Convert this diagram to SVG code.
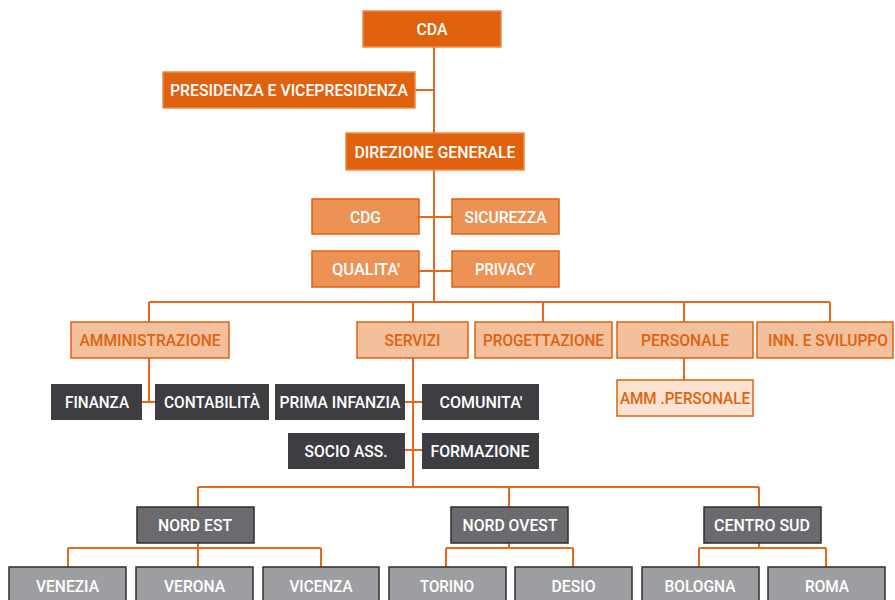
<svg xmlns="http://www.w3.org/2000/svg" width="895" height="600" viewBox="0 0 895 600">
<style>
text{font-family:Roboto,"Liberation Sans",Arial,sans-serif;font-weight:500;font-size:16.5px;text-anchor:middle;}
.l1 rect{fill:#e0620e;stroke:#f08a4a;stroke-width:1.5}
.l1 text{fill:#fff}
.l2 rect{fill:#ec9255;stroke:#e0620e;stroke-width:1.5}
.l2 text{fill:#fff}
.l3 rect{fill:#f2c09c;stroke:#e0620e;stroke-width:1.5}
.l3 text{fill:#e0620e}
.l4 rect{fill:#fbe2d3;stroke:#e0620e;stroke-width:1.5}
.l4 text{fill:#e0620e}
.dk rect{fill:#3e3d42}
.dk text{fill:#fff}
.rg rect{fill:#6b6a6f;stroke:#2e2e30;stroke-width:1.5}
.rg text{fill:#fff}
.ct rect{fill:#9d9ea2;stroke:#2e2e30;stroke-width:1.5}
.ct text{fill:#fff}
#connectors path{fill:none;stroke:#e8681a;stroke-width:2}
</style>
<g id="connectors">
<path d="M434 47V302M415 90H434M419 217H452M419 271H452"/>
<path d="M149 302H830M149 302V322M413 302V322M543 302V322M684 302V322M830 302V322"/>
<path d="M149 358V402M142 402H155"/>
<path d="M413 358V487M405 402H422M405 450H422"/>
<path d="M684 358V380"/>
<path d="M198 487H759M198 487V507M509 487V507M759 487V507"/>
<path d="M198 543V548M68 548H321M68 548V567M198 548V567M321 548V567"/>
<path d="M509 543V548M446 548H573M446 548V567M573 548V567"/>
<path d="M759 543V548M699 548H826M699 548V567M826 548V567"/>
</g>
<g id="cda" class="l1"><rect x="363" y="11" width="138" height="36"/><text x="432" y="35" textLength="31" lengthAdjust="spacingAndGlyphs">CDA</text></g>
<g id="presidenza" class="l1"><rect x="163" y="72" width="252" height="36"/><text x="289" y="96" textLength="238" lengthAdjust="spacingAndGlyphs">PRESIDENZA E VICEPRESIDENZA</text></g>
<g id="direzione" class="l1"><rect x="346" y="133" width="178" height="37"/><text x="435" y="158" textLength="161" lengthAdjust="spacingAndGlyphs">DIREZIONE GENERALE</text></g>
<g id="cdg" class="l2"><rect x="312" y="199" width="107" height="35"/><text x="365.5" y="223" textLength="31" lengthAdjust="spacingAndGlyphs">CDG</text></g>
<g id="sicurezza" class="l2"><rect x="452" y="199" width="107" height="35"/><text x="505.5" y="223" textLength="82" lengthAdjust="spacingAndGlyphs">SICUREZZA</text></g>
<g id="qualita" class="l2"><rect x="312" y="251" width="107" height="36"/><text x="366" y="275" textLength="68" lengthAdjust="spacingAndGlyphs">QUALITA'</text></g>
<g id="privacy" class="l2"><rect x="452" y="251" width="107" height="36"/><text x="505" y="275" textLength="60" lengthAdjust="spacingAndGlyphs">PRIVACY</text></g>
<g id="amministrazione" class="l3"><rect x="71" y="322" width="158" height="36"/><text x="150" y="346" textLength="141" lengthAdjust="spacingAndGlyphs">AMMINISTRAZIONE</text></g>
<g id="servizi" class="l3"><rect x="357" y="322" width="111" height="36"/><text x="412.5" y="346" textLength="56" lengthAdjust="spacingAndGlyphs">SERVIZI</text></g>
<g id="progettazione" class="l3"><rect x="475" y="322" width="137" height="36"/><text x="543.5" y="346" textLength="121" lengthAdjust="spacingAndGlyphs">PROGETTAZIONE</text></g>
<g id="personale" class="l3"><rect x="617" y="322" width="136" height="36"/><text x="685" y="346" textLength="88" lengthAdjust="spacingAndGlyphs">PERSONALE</text></g>
<g id="innovazione" class="l3"><rect x="757" y="322" width="136" height="36"/><text x="828" y="346" textLength="120" lengthAdjust="spacingAndGlyphs">INN. E SVILUPPO</text></g>
<g id="amm-personale" class="l4"><rect x="617" y="380" width="136" height="36"/><text x="685" y="404" textLength="130" lengthAdjust="spacingAndGlyphs">AMM .PERSONALE</text></g>
<g id="finanza" class="dk"><rect x="51" y="384" width="91" height="36"/><text x="97" y="408" textLength="64" lengthAdjust="spacingAndGlyphs">FINANZA</text></g>
<g id="contabilita" class="dk"><rect x="155" y="384" width="114" height="36"/><text x="212" y="408" textLength="96" lengthAdjust="spacingAndGlyphs">CONTABILITÀ</text></g>
<g id="prima-infanzia" class="dk"><rect x="275" y="384" width="130" height="36"/><text x="340" y="408" textLength="121" lengthAdjust="spacingAndGlyphs">PRIMA INFANZIA</text></g>
<g id="comunita" class="dk"><rect x="422" y="384" width="117" height="36"/><text x="481" y="408" textLength="83" lengthAdjust="spacingAndGlyphs">COMUNITA'</text></g>
<g id="socio-ass" class="dk"><rect x="288" y="433" width="117" height="36"/><text x="346" y="457" textLength="83" lengthAdjust="spacingAndGlyphs">SOCIO ASS.</text></g>
<g id="formazione" class="dk"><rect x="422" y="433" width="117" height="36"/><text x="480" y="457" textLength="99" lengthAdjust="spacingAndGlyphs">FORMAZIONE</text></g>
<g id="nord-est" class="rg"><rect x="137" y="507" width="117" height="36"/><text x="195" y="531" textLength="74" lengthAdjust="spacingAndGlyphs">NORD EST</text></g>
<g id="nord-ovest" class="rg"><rect x="451" y="507" width="117" height="36"/><text x="510" y="531" textLength="95" lengthAdjust="spacingAndGlyphs">NORD OVEST</text></g>
<g id="centro-sud" class="rg"><rect x="704" y="507" width="117" height="36"/><text x="762" y="531" textLength="96" lengthAdjust="spacingAndGlyphs">CENTRO SUD</text></g>
<g id="venezia" class="ct"><rect x="9" y="567" width="117" height="37"/><text x="67.5" y="592" textLength="63" lengthAdjust="spacingAndGlyphs">VENEZIA</text></g>
<g id="verona" class="ct"><rect x="136" y="567" width="117" height="37"/><text x="194.5" y="592" textLength="61" lengthAdjust="spacingAndGlyphs">VERONA</text></g>
<g id="vicenza" class="ct"><rect x="263" y="567" width="116" height="37"/><text x="321" y="592" textLength="63" lengthAdjust="spacingAndGlyphs">VICENZA</text></g>
<g id="torino" class="ct"><rect x="389" y="567" width="117" height="37"/><text x="447" y="592" textLength="54" lengthAdjust="spacingAndGlyphs">TORINO</text></g>
<g id="desio" class="ct"><rect x="515" y="567" width="117" height="37"/><text x="573.5" y="592" textLength="44" lengthAdjust="spacingAndGlyphs">DESIO</text></g>
<g id="bologna" class="ct"><rect x="642" y="567" width="117" height="37"/><text x="700" y="592" textLength="71" lengthAdjust="spacingAndGlyphs">BOLOGNA</text></g>
<g id="roma" class="ct"><rect x="768" y="567" width="117" height="37"/><text x="827" y="592" textLength="44" lengthAdjust="spacingAndGlyphs">ROMA</text></g>
</svg>
